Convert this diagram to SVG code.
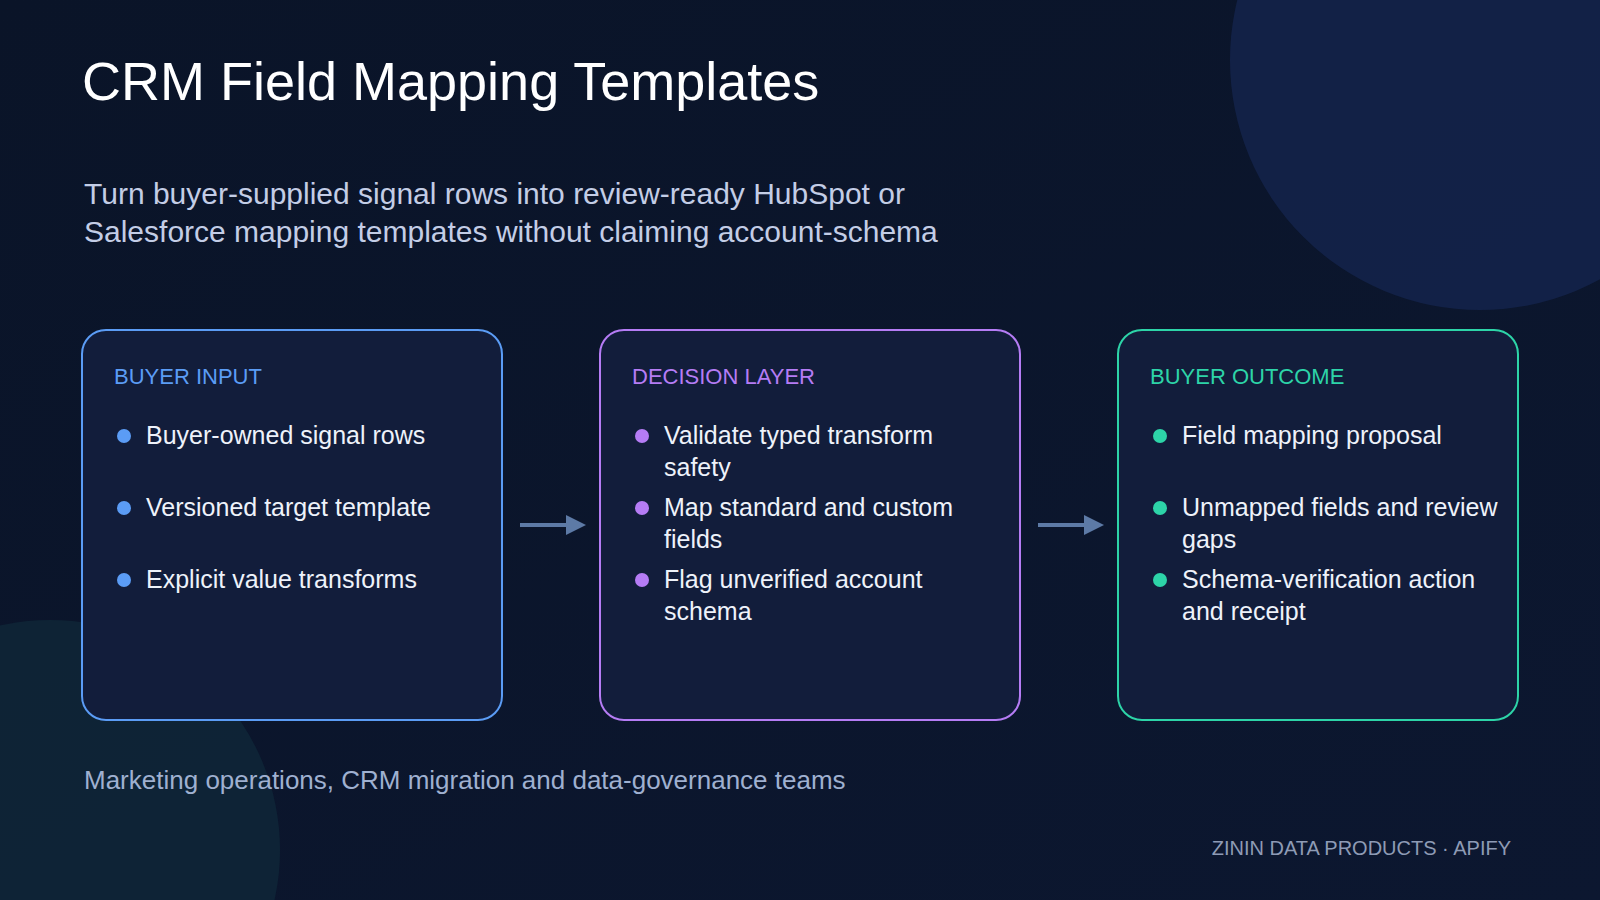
<svg xmlns="http://www.w3.org/2000/svg" width="1600" height="900" viewBox="0 0 1600 900">
<defs>
<style>
text{font-family:"Liberation Sans","Inter",sans-serif}
.title{font-size:54px;fill:#ffffff}
.sub{font-size:30px;fill:#c3cde6}
.lbl{font-size:22px}
.item{font-size:25px;fill:#eef2fa}
.box{fill:#121d3b;stroke-width:2}
.foot{font-size:26px;fill:#9fb0d0}
.brand{font-size:20px;fill:#8e9bb5}
</style>
<linearGradient id="bg" x1="0" y1="0" x2="1" y2="1"><stop offset="0" stop-color="#0a1428"/><stop offset="1" stop-color="#0c1730"/></linearGradient>
<marker id="ah" viewBox="0 0 10 10" refX="8" refY="5" markerWidth="5" markerHeight="5" orient="auto"><path d="M0,0L10,5L0,10z" fill="#5d7aa6"/></marker>
</defs>
<rect width="1600" height="900" fill="url(#bg)"/>
<circle cx="1480" cy="60" r="250" fill="#14244d" opacity="0.8"/>
<circle cx="50" cy="850" r="230" fill="#0f2a3a" opacity="0.7"/>
<text class="title" x="82" y="100">CRM Field Mapping Templates</text>
<text class="sub" x="84" y="204">Turn buyer-supplied signal rows into review-ready HubSpot or</text>
<text class="sub" x="84" y="242">Salesforce mapping templates without claiming account-schema</text>
<g id="buyer-input">
<rect class="box" x="82" y="330" width="420" height="390" rx="24" stroke="#5b9cf5"/>
<text class="lbl" x="114" y="384" fill="#5b9cf5">BUYER INPUT</text>
<g fill="#5b9cf5"><circle cx="124" cy="436" r="7"/><circle cx="124" cy="508" r="7"/><circle cx="124" cy="580" r="7"/></g>
<text class="item" x="146" y="444">Buyer-owned signal rows</text>
<text class="item" x="146" y="516">Versioned target template</text>
<text class="item" x="146" y="588">Explicit value transforms</text>
</g>
<g id="decision-layer">
<rect class="box" x="600" y="330" width="420" height="390" rx="24" stroke="#b57cf5"/>
<text class="lbl" x="632" y="384" fill="#b57cf5">DECISION LAYER</text>
<g fill="#b57cf5"><circle cx="642" cy="436" r="7"/><circle cx="642" cy="508" r="7"/><circle cx="642" cy="580" r="7"/></g>
<text class="item" x="664" y="444">Validate typed transform</text>
<text class="item" x="664" y="476">safety</text>
<text class="item" x="664" y="516">Map standard and custom</text>
<text class="item" x="664" y="548">fields</text>
<text class="item" x="664" y="588">Flag unverified account</text>
<text class="item" x="664" y="620">schema</text>
</g>
<g id="buyer-outcome">
<rect class="box" x="1118" y="330" width="400" height="390" rx="24" stroke="#2dd4a8"/>
<text class="lbl" x="1150" y="384" fill="#2dd4a8">BUYER OUTCOME</text>
<g fill="#2dd4a8"><circle cx="1160" cy="436" r="7"/><circle cx="1160" cy="508" r="7"/><circle cx="1160" cy="580" r="7"/></g>
<text class="item" x="1182" y="444">Field mapping proposal</text>
<text class="item" x="1182" y="516">Unmapped fields and review</text>
<text class="item" x="1182" y="548">gaps</text>
<text class="item" x="1182" y="588">Schema-verification action</text>
<text class="item" x="1182" y="620">and receipt</text>
</g>
<g id="connectors" stroke="#5d7aa6" stroke-width="4" fill="none">
<line x1="520" y1="525" x2="582" y2="525" marker-end="url(#ah)"/>
<line x1="1038" y1="525" x2="1100" y2="525" marker-end="url(#ah)"/>
</g>
<text class="foot" x="84" y="789">Marketing operations, CRM migration and data-governance teams</text>
<text class="brand" x="1511" y="855" text-anchor="end">ZININ DATA PRODUCTS · APIFY</text>
</svg>
